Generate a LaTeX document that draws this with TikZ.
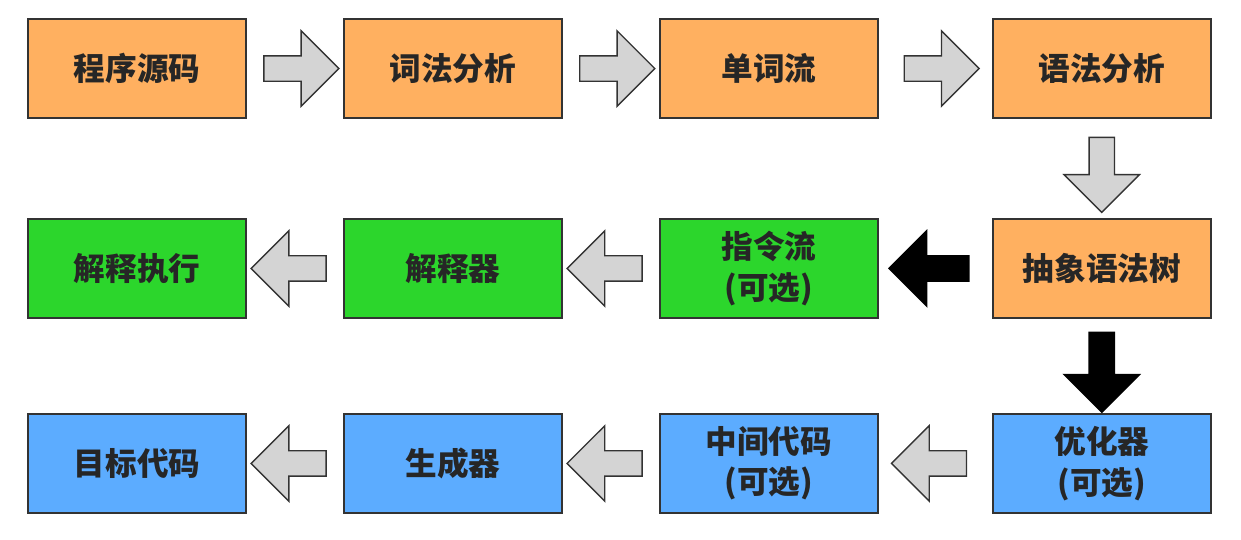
\documentclass[tikz,border=0pt]{standalone}
\usepackage{fontspec}
\newfontfamily\cjk{Noto Sans CJK SC}
\usetikzlibrary{positioning,shapes.arrows}
\definecolor{frontcol}{HTML}{FFB060}
\definecolor{interpcol}{HTML}{2CD62C}
\definecolor{compilecol}{HTML}{5CACFF}
\definecolor{edgegray}{HTML}{333333}
\definecolor{arrowgray}{HTML}{D4D4D4}
\definecolor{labelgray}{HTML}{262626}

\begin{document}
\begin{tikzpicture}[x=0.02cm,y=-0.02cm,node distance=1.96cm,
    stage/.style={rectangle,draw=edgegray,line width=1.1pt,minimum width=4.36cm,
                  minimum height=1.98cm,inner sep=0pt,outer sep=0pt,align=center,
                  text=labelgray,font=\cjk\bfseries\fontsize{18}{23}\selectfont},
    front/.style={stage,fill=frontcol},
    interp/.style={stage,fill=interpcol},
    compile/.style={stage,fill=compilecol},
    garrow/.style={single arrow,draw=edgegray,fill=arrowgray,line width=0.8pt,
                   minimum height=1.5cm,inner xsep=0pt,inner ysep=0.24cm,
                   single arrow head extend=0.5cm,sloped,allow upside down},
    barrow/.style={garrow,draw=black,fill=black,minimum height=1.6cm}]
  \useasboundingbox (0,0) rectangle (1241,539);

  % first row: front end
  \node[front] (src) at (137,68.5) {程序源码};
  \node[front] (lex) [right=of src] {词法分析};
  \node[front] (tok) [right=of lex] {单词流};
  \node[front] (parse) [right=2.3cm of tok] {语法分析};

  % second row: interpreter path
  \node[front] (ast) [below=2.02cm of parse] {抽象语法树};
  \node[interp] (ins) [left=2.3cm of ast] {指令流\\(可选)};
  \node[interp] (vm) [left=of ins] {解释器};
  \node[interp] (run) [left=of vm] {解释执行};

  % third row: compiler path
  \node[compile] (opt) [below=1.92cm of ast] {优化器\\(可选)};
  \node[compile] (mid) [left=2.3cm of opt] {中间代码\\(可选)};
  \node[compile] (gen) [left=of mid] {生成器};
  \node[compile] (obj) [left=of gen] {目标代码};

  \path (src) -- node[garrow] {} (lex)
        (lex) -- node[garrow] {} (tok)
        (tok) -- node[garrow] {} (parse)
        (parse) -- node[garrow] {} (ast)
        (ast) -- node[barrow] {} (ins)
        (ins) -- node[garrow] {} (vm)
        (vm) -- node[garrow] {} (run)
        (ast) -- node[barrow] {} (opt)
        (opt) -- node[garrow] {} (mid)
        (mid) -- node[garrow] {} (gen)
        (gen) -- node[garrow] {} (obj);
\end{tikzpicture}
\end{document}
